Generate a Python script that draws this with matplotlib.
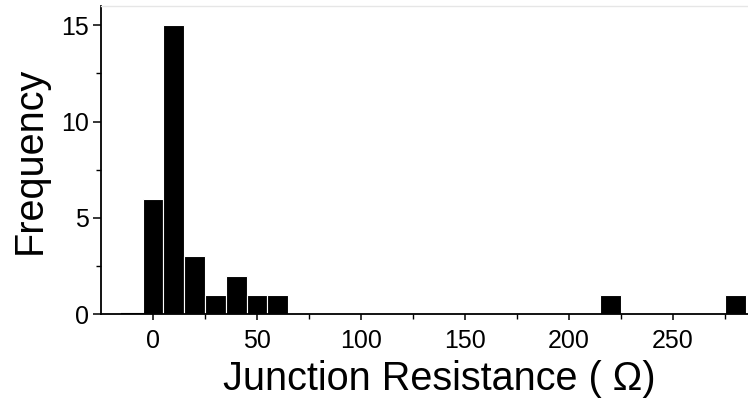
import matplotlib
matplotlib.use("Agg")
import matplotlib.pyplot as plt
from matplotlib.ticker import FixedLocator, MultipleLocator

plt.rcParams['font.family'] = ['Liberation Sans', 'DejaVu Sans']

# Histogram data (bin centers in ohms, counts)
bin_centers = [0, 10, 20, 30, 40, 50, 60, 220, 280]
counts = [6, 15, 3, 1, 2, 1, 1, 1, 1]
bin_width = 10
x_major_ticks = [0, 50, 100, 150, 200, 250]
x_minor_ticks = [25, 75, 125, 175, 225, 275]
x_label = "Junction Resistance ( Ω)"
y_label = "Frequency"

fig = plt.figure(figsize=(7.48, 4.04), dpi=100)
ax = fig.add_axes([101/748, 1-314/404, (777-101)/748, (314-6)/404])

ax.bar(bin_centers, counts, width=bin_width, color='black',
       edgecolor='white', linewidth=0.8, zorder=2)
ax.plot([-15, -5], [0, 0], color='black', lw=1.5, zorder=3)

ax.set_xlim(-25, 300)
ax.set_ylim(0, 16)
ax.xaxis.set_major_locator(FixedLocator(x_major_ticks))
ax.xaxis.set_minor_locator(FixedLocator(x_minor_ticks))
ax.yaxis.set_major_locator(MultipleLocator(5))
ax.yaxis.set_minor_locator(MultipleLocator(2.5))

for s in ['left', 'bottom']:
    ax.spines[s].set_linewidth(1.3)
    ax.spines[s].set_color('black')
ax.spines['right'].set_visible(False)
ax.spines['top'].set_color('#e6e6e6')
ax.spines['top'].set_linewidth(1.0)

ax.tick_params(which='major', direction='out', length=5.5, width=1.1,
               labelsize=18, colors='black', pad=3)
ax.tick_params(which='minor', direction='out', length=3.5, width=1.0)
ax.tick_params(axis='x', which='major', length=4.5, pad=6)
ax.tick_params(axis='x', which='minor', length=3.5)

ax.set_xlabel(x_label, fontsize=28.5, labelpad=5)
ax.set_ylabel(y_label, fontsize=28.5, labelpad=9)

fig.savefig("out.png", dpi=100)
